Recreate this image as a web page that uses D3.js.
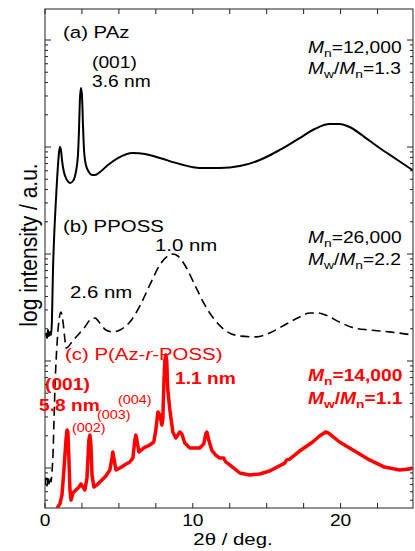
<!DOCTYPE html>
<html>
<head>
<meta charset="utf-8">
<script src="https://cdn.jsdelivr.net/npm/d3@7"></script>
<style>
  html, body { margin: 0; padding: 0; background: #fff; }
  text { font-family: "Liberation Sans", Arial, sans-serif; }
</style>
</head>
<body>
<div id="chart"></div>
<script>
// XRD traces (2theta in deg, intensity in a.u. on log axis)
const thetaA = [0.07, 0.14, 0.20, 0.27, 0.34, 0.41, 0.47, 0.54, 0.61, 0.74, 0.88, 0.95, 1.01, 1.08, 1.15, 1.28, 1.49, 1.69, 1.89, 2.09, 2.23, 2.30, 2.36, 2.43, 2.50, 2.57, 2.64, 2.77, 2.97, 3.18, 3.38, 3.72, 4.26, 4.93, 5.95, 6.76, 7.77, 9.12, 10.47, 11.82, 13.18, 14.53, 15.88, 17.23, 18.24, 19.26, 19.93, 20.61, 21.62, 22.64, 23.65, 24.86];
const intA = [18.3, 16.4, 19.5, 17.1, 18.7, 17.5, 24.2, 70.8, 135, 320, 679, 898, 1000, 938, 756, 584, 492, 461, 481, 584, 842, 1442, 2750, 3556, 3062, 1606, 938, 679, 584, 547, 547, 584, 679, 789, 879, 860, 789, 693, 637, 637, 664, 756, 938, 1213, 1473, 1641, 1641, 1538, 1239, 979, 789, 610];

const thetaB = [0.0, 0.07, 0.14, 0.20, 0.27, 0.34, 0.41, 0.47, 0.54, 0.61, 0.68, 0.81, 0.95, 1.08, 1.22, 1.35, 1.42, 1.55, 1.82, 2.23, 2.70, 3.04, 3.38, 3.72, 4.12, 4.59, 5.07, 5.74, 6.42, 7.09, 7.77, 8.31, 8.65, 8.99, 9.46, 10.14, 10.81, 11.49, 12.16, 13.18, 14.32, 15.20, 16.22, 17.23, 17.91, 18.45, 19.12, 19.93, 20.95, 21.96, 23.31, 24.86];
const intB = [0.694, 0.807, 0.679, 0.842, 0.708, 0.824, 0.740, 0.918, 1.32, 2.81, 5.97, 14.1, 24.2, 28.7, 23.1, 15.7, 13.2, 13.5, 15.1, 17.5, 20.8, 24.2, 25.2, 22.6, 19.5, 18.7, 19.5, 23.1, 32.7, 51.3, 78.9, 95.8, 100, 95.8, 78.9, 51.3, 33.4, 24.2, 19.5, 17.1, 16.8, 18.3, 21.7, 25.8, 28.1, 28.1, 26.4, 23.1, 20.3, 19.5, 18.7, 17.5];

const thetaC = [0.81, 1.01, 1.15, 1.28, 1.42, 1.49, 1.55, 1.62, 1.69, 1.76, 1.89, 2.09, 2.30, 2.43, 2.57, 2.70, 2.84, 2.97, 3.04, 3.11, 3.18, 3.31, 3.58, 3.85, 4.12, 4.39, 4.53, 4.59, 4.66, 4.80, 5.07, 5.41, 5.74, 5.95, 6.08, 6.15, 6.22, 6.35, 6.69, 7.09, 7.36, 7.50, 7.64, 7.77, 7.91, 7.97, 8.04, 8.11, 8.18, 8.24, 8.31, 8.45, 8.65, 8.85, 9.12, 9.26, 9.46, 9.80, 10.47, 10.74, 10.88, 10.95, 11.08, 11.28, 11.55, 11.82, 12.09, 12.23, 12.50, 13.18, 13.85, 14.53, 15.20, 16.22, 16.35, 16.55, 17.23, 18.11, 18.58, 18.99, 19.19, 19.93, 20.95, 21.96, 22.97, 23.99, 24.66, 24.86];
const intC = [0.423, 0.461, 0.560, 0.958, 1.83, 2.26, 2.17, 1.19, 0.623, 0.502, 0.584, 0.623, 0.664, 0.708, 0.664, 0.623, 0.807, 1.83, 2.03, 1.64, 0.861, 0.664, 0.708, 0.773, 0.842, 0.958, 1.24, 1.41, 1.24, 0.958, 1.00, 1.07, 1.14, 1.24, 1.83, 2.03, 1.83, 1.41, 1.54, 1.64, 1.75, 2.26, 3.34, 3.13, 2.52, 2.81, 5.97, 10.2, 11.4, 9.79, 5.36, 3.48, 2.17, 1.91, 2.17, 2.08, 1.71, 1.54, 1.54, 1.68, 2.08, 2.17, 1.83, 1.47, 1.32, 1.24, 1.24, 1.14, 1.07, 0.898, 0.861, 0.879, 0.937, 1.11, 1.19, 1.21, 1.44, 1.75, 1.99, 2.17, 2.12, 1.75, 1.44, 1.19, 1.02, 0.958, 0.979, 1.00];

const xTickLabels = [0, 10, 20];
const xTicks = [0, 2.5, 5, 7.5, 10, 12.5, 15, 17.5, 20, 22.5];

const W = 415, H = 551;
const plot = { left: 45, right: 413, top: 9, bottom: 508 };
const sx = 1.2; // the figure is stretched horizontally

const svg = d3.select("#chart").append("svg")
    .attr("width", W)
    .attr("height", H);

const x = d3.scaleLinear().domain([0, 24.9]).range([plot.left, plot.right]);
const y = d3.scaleLog().domain([Math.pow(10, -0.374), Math.pow(10, 4.29)]).range([plot.bottom, plot.top]);

svg.append("defs").append("clipPath").attr("id", "clip")
  .append("rect")
    .attr("x", plot.left).attr("y", plot.top)
    .attr("width", plot.right - plot.left).attr("height", plot.bottom - plot.top);

// frame
svg.append("rect")
    .attr("x", plot.left).attr("y", plot.top)
    .attr("width", plot.right - plot.left).attr("height", plot.bottom - plot.top)
    .attr("fill", "none").attr("stroke", "#222").attr("stroke-width", 1);

// x ticks (inside, top and bottom)
const xt = svg.append("g").attr("stroke", "#222").attr("stroke-width", 1);
xTicks.forEach(t => {
  xt.append("line").attr("x1", x(t)).attr("x2", x(t)).attr("y1", plot.bottom).attr("y2", plot.bottom - 5);
  xt.append("line").attr("x1", x(t)).attr("x2", x(t)).attr("y1", plot.top).attr("y2", plot.top + 5);
});

// y ticks, log with minors, left and right
const yTicks = [];
for (let d = -1; d <= 4; d++) {
  for (let k = 1; k <= 9; k++) {
    const v = k * Math.pow(10, d);
    if (v >= y.domain()[0] && v <= y.domain()[1]) yTicks.push({ v, major: k === 1 });
  }
}
const yt = svg.append("g").attr("stroke", "#222").attr("stroke-width", 1);
yTicks.forEach(t => {
  const len = t.major ? 6 : 3;
  yt.append("line").attr("x1", plot.left).attr("x2", plot.left + len).attr("y1", y(t.v)).attr("y2", y(t.v));
  yt.append("line").attr("x1", plot.right).attr("x2", plot.right - len).attr("y1", y(t.v)).attr("y2", y(t.v));
});

svg.selectAll(".xlab").data(xTickLabels).enter().append("text")
    .attr("transform", d => `translate(${x(d)},526) scale(${sx},1)`)
    .attr("text-anchor", "middle")
    .style("font-size", "16px")
    .text(d => d);

svg.append("text")
    .attr("transform", `translate(233,545) scale(${sx},1)`)
    .attr("text-anchor", "middle")
    .style("font-size", "17px")
    .text("2θ / deg.");

svg.append("text")
    .attr("transform", `translate(37,245) rotate(-90) scale(1,1.1)`)
    .attr("text-anchor", "middle")
    .style("font-size", "21px")
    .text("log intensity / a.u.");

// curves
const g = svg.append("g").attr("clip-path", "url(#clip)");
const toPts = (xs, ys) => xs.map((t, i) => [t, ys[i]]);
const smooth = d3.line().x(d => x(d[0])).y(d => y(d[1])).curve(d3.curveMonotoneX);
const sharp = d3.line().x(d => x(d[0])).y(d => y(d[1]));

g.append("path").attr("d", smooth(toPts(thetaA, intA)))
    .attr("fill", "none").attr("stroke", "#000").attr("stroke-width", 2);
g.append("path").attr("d", smooth(toPts(thetaB, intB)))
    .attr("fill", "none").attr("stroke", "#000").attr("stroke-width", 1.6)
    .attr("stroke-dasharray", "9,5");
g.append("path").attr("d", sharp(toPts(thetaC, intC)))
    .attr("fill", "none").attr("stroke", "#ff0000").attr("stroke-width", 3.5)
    .attr("stroke-linejoin", "round");

// annotations
function label(px, py, parts, opts = {}) {
  const t = svg.append("text")
      .attr("transform", `translate(${px},${py}) scale(${sx},1)`)
      .style("font-size", (opts.size || 17) + "px")
      .style("font-weight", opts.bold ? "bold" : "normal")
      .attr("fill", opts.color || "#000");
  parts.forEach(p => {
    const s = t.append("tspan").text(p.t);
    if (p.i) s.style("font-style", "italic");
    if (p.sub) s.style("font-size", "0.72em").attr("dy", 4);
    if (p.up) s.attr("dy", -4);
  });
  return t;
}
const mw = b => [{ t: "M", i: 1 }, { t: "w", sub: 1 }, { t: "/", up: 1 }, { t: "M", i: 1 }, { t: "n", sub: 1 }, { t: "=" + b, up: 1 }];
const mn = a => [{ t: "M", i: 1 }, { t: "n", sub: 1 }, { t: "=" + a, up: 1 }];

label(63, 38, [{ t: "(a) PAz" }]);
label(92, 68, [{ t: "(001)" }], { size: 16 });
label(92, 87, [{ t: "3.6 nm" }], { size: 16 });
label(308, 53, mn("12,000"), { size: 16 });
label(308, 74, mw("1.3"), { size: 16 });

label(63, 232, [{ t: "(b) PPOSS" }]);
label(155, 251, [{ t: "1.0 nm" }]);
label(70, 298, [{ t: "2.6 nm" }]);
label(308, 243, mn("26,000"), { size: 16 });
label(308, 265, mw("2.2"), { size: 16 });

const red = "#ff0000";
label(65, 360, [{ t: "(c) P(Az-" }, { t: "r", i: 1 }, { t: "-POSS)" }], { color: red });
label(45, 390, [{ t: "(001)" }], { color: red, bold: true, size: 16 });
label(39, 411, [{ t: "5.8 nm" }], { color: red, bold: true, size: 16 });
label(72, 432, [{ t: "(002)" }], { color: red, size: 12 });
label(97, 419, [{ t: "(003)" }], { color: red, size: 12 });
label(118, 404, [{ t: "(004)" }], { color: red, size: 12 });
label(175, 384, [{ t: "1.1 nm" }], { color: red, bold: true, size: 16 });
label(308, 381, mn("14,000"), { color: red, bold: true, size: 16 });
label(308, 404, mw("1.1"), { color: red, bold: true, size: 16 });
</script>
</body>
</html>
